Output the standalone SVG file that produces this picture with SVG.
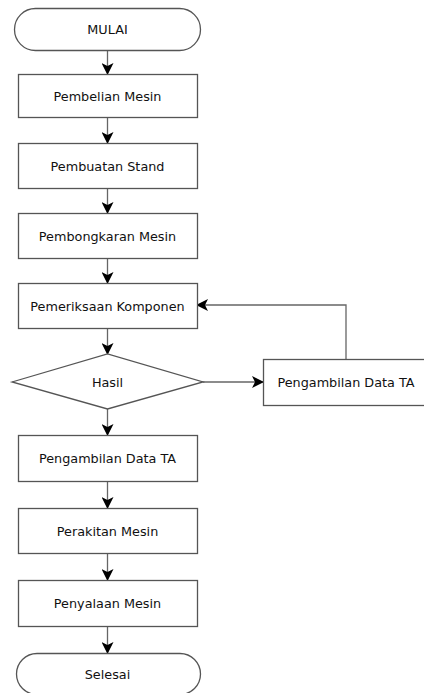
<svg xmlns="http://www.w3.org/2000/svg" width="424" height="693" viewBox="0 0 424 693">
<defs>
<marker id="arr" viewBox="0 0 12 12" refX="11" refY="6" markerWidth="12" markerHeight="12" markerUnits="userSpaceOnUse" orient="auto">
<path d="M0,0 L12,6 L0,12 L3,6 Z" fill="#000"/>
</marker>
</defs>
<style>
.s{fill:#fff;stroke:#555;stroke-width:1.3}
.t{font-family:"DejaVu Sans",Verdana,sans-serif;font-size:12.8px;fill:#111;text-anchor:middle}
.c{fill:none;stroke:#666;stroke-width:1.3}
</style>
<rect width="424" height="693" fill="#fff"/>
<g id="connectors">
<line class="c" x1="107.5" y1="50" x2="107.5" y2="74" marker-end="url(#arr)"/>
<line class="c" x1="107.5" y1="117" x2="107.5" y2="143" marker-end="url(#arr)"/>
<line class="c" x1="107.5" y1="189" x2="107.5" y2="213" marker-end="url(#arr)"/>
<line class="c" x1="107.5" y1="258" x2="107.5" y2="283" marker-end="url(#arr)"/>
<line class="c" x1="107.5" y1="328" x2="107.5" y2="354" marker-end="url(#arr)"/>
<line class="c" x1="203" y1="382" x2="263" y2="382" marker-end="url(#arr)"/>
<polyline class="c" points="346,359 346,305 197,305" marker-end="url(#arr)"/>
<line class="c" x1="107.5" y1="409" x2="107.5" y2="435" marker-end="url(#arr)"/>
<line class="c" x1="107.5" y1="481" x2="107.5" y2="508" marker-end="url(#arr)"/>
<line class="c" x1="107.5" y1="554" x2="107.5" y2="580" marker-end="url(#arr)"/>
<line class="c" x1="107.5" y1="626" x2="107.5" y2="653" marker-end="url(#arr)"/>
</g>
<g id="mulai"><rect class="s" x="14.5" y="8.5" width="186" height="42" rx="21" ry="21"/><text class="t" x="107.5" y="34">MULAI</text></g>
<g id="pembelian"><rect class="s" x="18.5" y="74.5" width="179" height="43"/><text class="t" x="107.5" y="101">Pembelian Mesin</text></g>
<g id="pembuatan"><rect class="s" x="18.5" y="143.5" width="179" height="45"/><text class="t" x="107.5" y="171">Pembuatan Stand</text></g>
<g id="pembongkaran"><rect class="s" x="18.5" y="213.5" width="179" height="45"/><text class="t" x="107.5" y="241">Pembongkaran Mesin</text></g>
<g id="pemeriksaan"><rect class="s" x="18.5" y="283.5" width="179" height="45"/><text class="t" x="107.5" y="311">Pemeriksaan Komponen</text></g>
<g id="hasil"><polygon class="s" points="12,382 107.5,354 203,382 107.5,409"/><text class="t" x="107.5" y="387">Hasil</text></g>
<g id="pengambilan2"><rect class="s" x="263.5" y="359.5" width="170" height="46"/><text class="t" x="346" y="387">Pengambilan Data TA</text></g>
<g id="pengambilan"><rect class="s" x="18.5" y="435.5" width="179" height="46"/><text class="t" x="107.5" y="463">Pengambilan Data TA</text></g>
<g id="perakitan"><rect class="s" x="18.5" y="508.5" width="179" height="45"/><text class="t" x="107.5" y="536">Perakitan Mesin</text></g>
<g id="penyalaan"><rect class="s" x="18.5" y="580.5" width="179" height="46"/><text class="t" x="107.5" y="608">Penyalaan Mesin</text></g>
<g id="selesai"><rect class="s" x="16.5" y="653.5" width="184" height="41" rx="20.5" ry="20.5"/><text class="t" x="107.5" y="679">Selesai</text></g>
</svg>
